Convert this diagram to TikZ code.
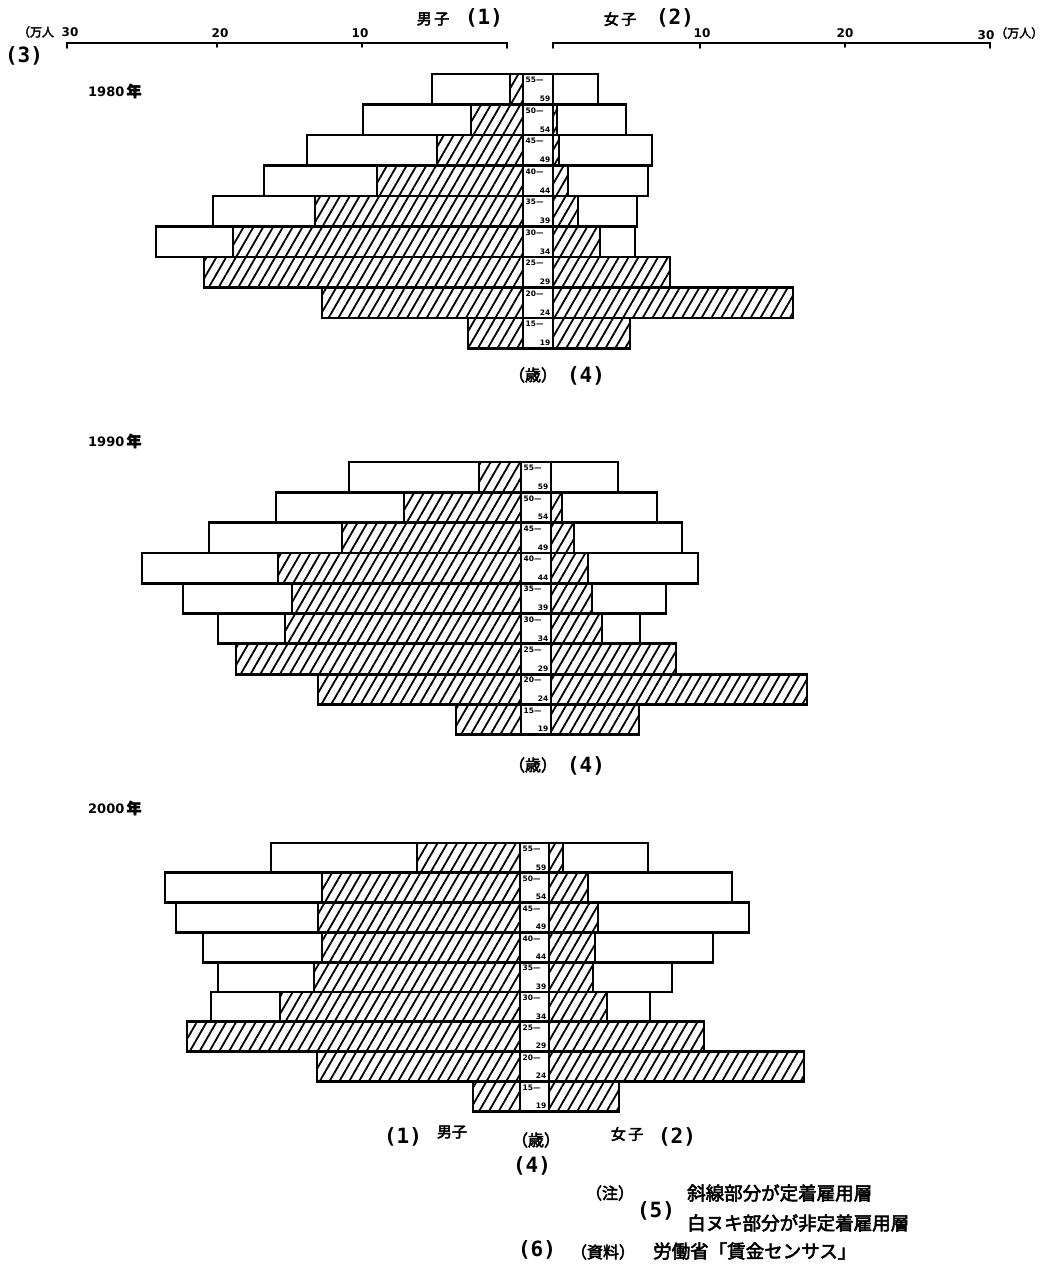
\documentclass[tikz,border=0pt]{standalone}
\usepackage{fontspec}
\usetikzlibrary{patterns.meta}
\newfontfamily\jp{Noto Sans CJK JP}[FakeBold=3]
\newfontfamily\lat{DejaVu Sans}
\newfontfamily\mono{DejaVu Sans Mono}
\newcommand\popchart[6]{%
 \foreach \k/\lo/\lh/\rh/\ro/\a/\b in {#6}{%
  \pgfmathsetmacro\yt{#2+\k*#3}%
  \pgfmathsetmacro\yb{#2+(\k+1)*#3}%
  \fill[white] (\lo,\yt) rectangle (#4,\yb);
  \fill[hatch] (\lh,\yt) rectangle (#4,\yb);
  \fill[hatch] (#5,\yt) rectangle (\rh,\yb);
  \draw[border] (\lo,\yt) rectangle (#4,\yb);
  \draw[border] (\lh,\yt) -- (\lh,\yb);
  \draw[border] (#5,\yt) rectangle (\ro,\yb);
  \draw[border] (\rh,\yt) -- (\rh,\yb);
  \draw[border] (#4,\yt) rectangle (#5,\yb);
  \node[agel,anchor=north west] (#1a\k) at ({#4+2.5},{\yt+3}) {\a—};
  \node[agel,anchor=south east] (#1b\k) at ({#5-2.5},{\yb-2.5}) {\b};
 }}
\begin{document}
\begin{tikzpicture}[x=1pt,y=-1pt,
  border/.style={draw=black,line width=2.8pt,line join=miter},
  hatch/.style={pattern={Lines[angle=60,distance=8.5pt,line width=1.8pt]},pattern color=black},
  axis/.style={line width=1.8pt,line cap=round},
  paren/.style={inner sep=0pt,font=\mono\bfseries\fontsize{21}{21}\selectfont},
  jpm/.style={inner sep=0pt,font=\jp\fontsize{15}{15}\selectfont},
  jps/.style={inner sep=0pt,font=\jp\fontsize{12}{12}\selectfont},
  num/.style={inner sep=0pt,font=\lat\bfseries\fontsize{12}{12}\selectfont},
  yr/.style={inner sep=0pt,font=\lat\bfseries\fontsize{13}{13}\selectfont},
  agel/.style={inner sep=0pt,font=\lat\bfseries\fontsize{7.5}{7.5}\selectfont},
  note/.style={inner sep=0pt,font=\jp\fontsize{18.5}{18.5}\selectfont},
  sai/.style={inner sep=0pt,font=\jp\fontsize{16}{16}\selectfont},
]
\useasboundingbox (0,0) rectangle (1062,1278);
\fill[white] (0,0) rectangle (1062,1278);

% ---------- top axis ----------
\coordinate (L30) at (67,43); \coordinate (L0) at (507,43);
\coordinate (R0) at (553,43); \coordinate (R30) at (990,43);
\draw[axis] ([yshift=-5pt]L30) -- (L30) -- (L0) -- ([yshift=-5pt]L0);
\draw[axis] (217,43) -- (217,47);
\draw[axis] (362,43) -- (362,47);
\draw[axis] ([yshift=-5pt]R0) -- (R0) -- (R30) -- ([yshift=-5pt]R30);
\draw[axis] (700,43) -- (700,48);
\draw[axis] (845,43) -- (845,47);
\node[jps] (uL) at (36,32) {（万人};
\node[num] (t30L) at (70,32) {30};
\node[num] (t20L) at (220,33) {20};
\node[num] (t10L) at (360,33) {10};
\node[num] (t10R) at (702,33) {10};
\node[num] (t20R) at (845,33) {20};
\node[num] (t30R) at (986,35) {30};
\node[jps,anchor=west] (uR) at (995,33) {（万人）};
\node[jpm] (mT) at (433,19) {男\,子};
\node[paren] (mTn) at (484,18) {(1)};
\node[jpm] (fT) at (620,19) {女\,子};
\node[paren] (fTn) at (675,18) {(2)};
\node[paren] (n3) at (24,56) {(3)};

% ---------- year labels ----------
\node[yr,anchor=west] (y80) at (88,91) {1980\,{\jp\fontsize{15}{15}\selectfont 年}};
\node[yr,anchor=west] (y90) at (88,441) {1990\,{\jp\fontsize{15}{15}\selectfont 年}};
\node[yr,anchor=west] (y00) at (88,808) {2000\,{\jp\fontsize{15}{15}\selectfont 年}};

% ---------- charts ----------
\popchart{c80}{74}{30.5}{523}{553}{0/432/510/553/598/55/59,1/363/471/557/626/50/54,2/307/437/559/652/45/49,3/264/377/568/648/40/44,4/213/315/578/637/35/39,5/156/233/600/635/30/34,6/204/204/670/670/25/29,7/322/322/793/793/20/24,8/468/468/630/630/15/19}
\popchart{c90}{462}{30.3}{521}{551}{0/349/479/551/618/55/59,1/276/404/562/657/50/54,2/209/342/574/682/45/49,3/142/278/588/698/40/44,4/183/292/592/666/35/39,5/218/285/602/640/30/34,6/236/236/676/676/25/29,7/318/318/807/807/20/24,8/456/456/639/639/15/19}
\popchart{c00}{843}{29.8}{520}{549}{0/271/417/563/648/55/59,1/165/322/588/732/50/54,2/176/318/598/749/45/49,3/203/322/595/713/40/44,4/218/314/593/672/35/39,5/211/280/607/650/30/34,6/187/187/704/704/25/29,7/317/317/804/804/20/24,8/473/473/619/619/15/19}

% ---------- age unit labels ----------
\node[sai] (s80) at (533,375) {（歳）};
\node[paren] (s80n) at (586,376) {(4)};
\node[sai] (s90) at (533,765) {（歳）};
\node[paren] (s90n) at (586,766) {(4)};

% ---------- bottom labels ----------
\node[paren] (bmn) at (403,1137) {(1)};
\node[jpm] (bm) at (452,1132) {男子};
\node[sai] (bs) at (536,1140) {（歳）};
\node[jpm] (bf) at (627,1134) {女\,子};
\node[paren] (bfn) at (677,1137) {(2)};
\node[paren] (bsn) at (532,1166) {(4)};

% ---------- notes ----------
\node[sai] (nz) at (610,1193) {（注）};
\node[note,anchor=west] (n1) at (687,1193) {斜線部分が定着雇用層};
\node[paren] (n5) at (656,1211) {(5)};
\node[note,anchor=west] (n2) at (687,1223) {白ヌキ部分が非定着雇用層};
\node[paren] (n6) at (537,1250) {(6)};
\node[sai] (nsrc) at (603,1252) {（資料）};
\node[note,anchor=west] (n3b) at (653,1251) {労働省「賃金センサス」};
\end{tikzpicture}
\end{document}
